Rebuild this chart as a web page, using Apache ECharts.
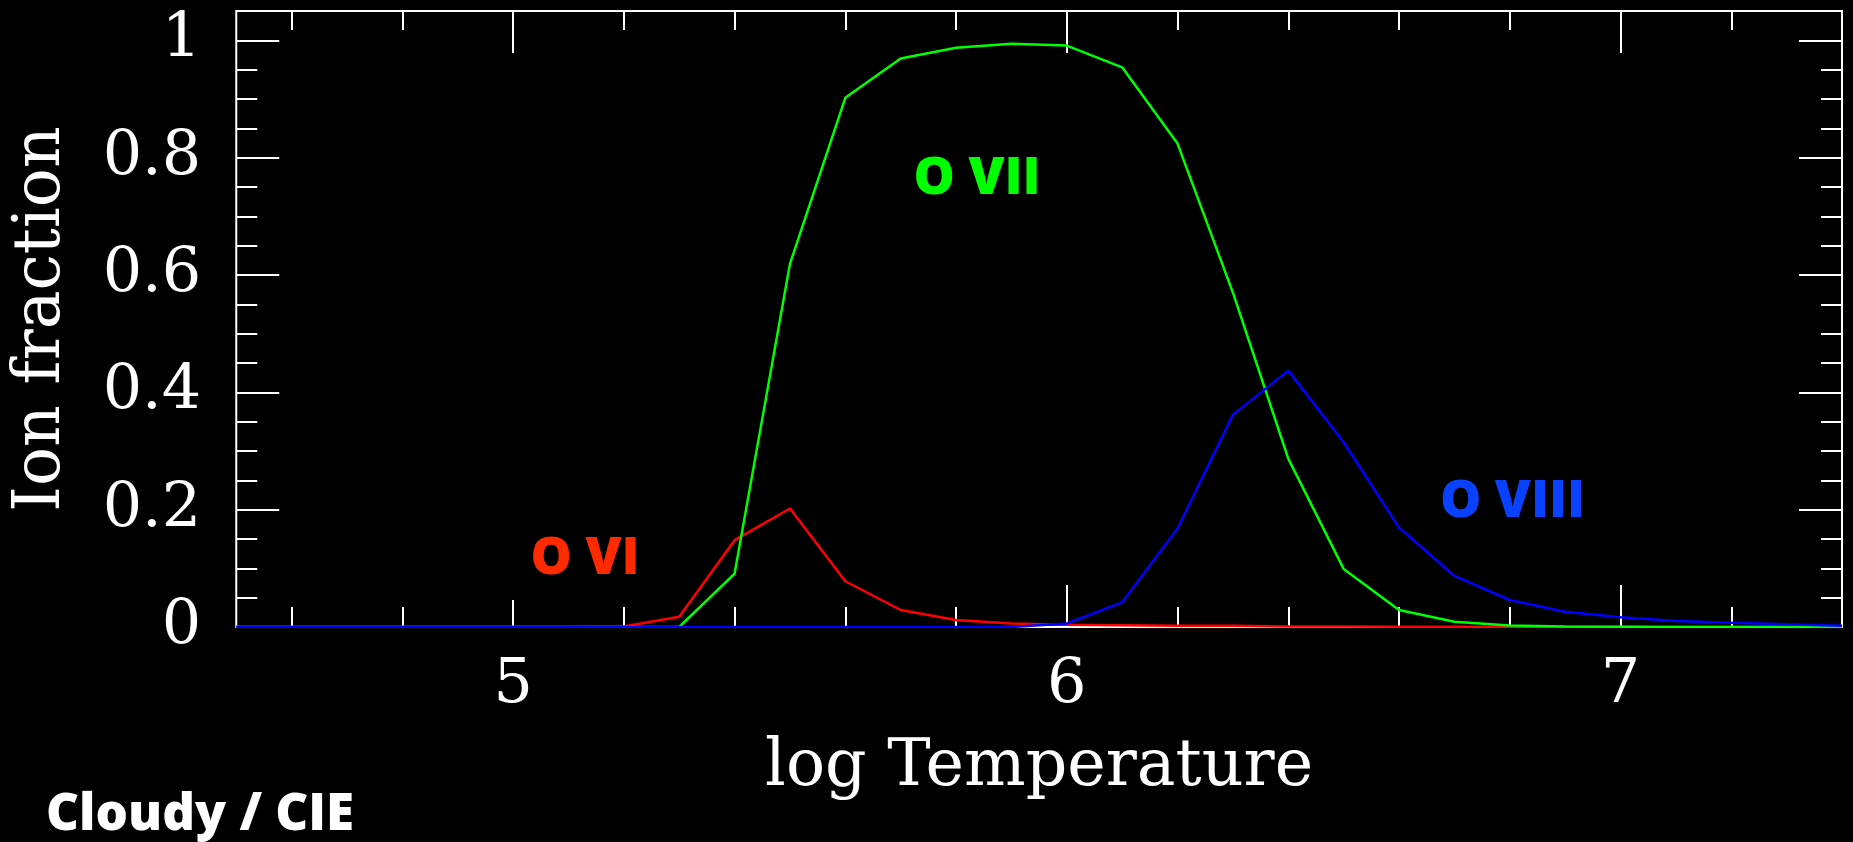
<!DOCTYPE html>
<html>
<head>
<meta charset="utf-8">
<title>Oxygen ion fractions — Cloudy / CIE</title>
<script src="https://cdn.jsdelivr.net/npm/echarts@6/dist/echarts.min.js"></script>
<style>
  html, body { margin: 0; padding: 0; background: #000; }
  #chart { width: 1853px; height: 842px; }
</style>
</head>
<body>
<div id="chart"></div>
<script>
// log T grid (0.1 dex steps)
const logT = [4.5, 4.6, 4.7, 4.8, 4.9, 5.0, 5.1, 5.2, 5.3, 5.4, 5.5, 5.6, 5.7, 5.8, 5.9,
              6.0, 6.1, 6.2, 6.3, 6.4, 6.5, 6.6, 6.7, 6.8, 6.9, 7.0, 7.1, 7.2, 7.3, 7.4];

// Ion fractions of oxygen in collisional ionisation equilibrium
const oVI   = [0, 0, 0, 0, 0, 0, 0, 0.001, 0.0175, 0.148, 0.202, 0.078, 0.029, 0.012, 0.006,
               0.004, 0.003, 0.002, 0.002, 0.001, 0.001, 0.0005, 0.0005, 0, 0, 0, 0, 0, 0, 0];
const oVII  = [0, 0, 0, 0, 0, 0, 0, 0, 0, 0.091, 0.619, 0.902, 0.969, 0.9875, 0.994,
               0.991, 0.954, 0.824, 0.570, 0.287, 0.099, 0.029, 0.009, 0.0025, 0.001,
               0.0005, 0, 0, 0, 0];
const oVIII = [0, 0, 0, 0, 0, 0, 0, 0, 0, 0, 0, 0, 0, 0, 0,
               0.006, 0.042, 0.168, 0.362, 0.437, 0.315, 0.1695, 0.087, 0.046, 0.026,
               0.0165, 0.0102, 0.0073, 0.0045, 0.002];

// Axis ranges and tick positions
const xRange = [4.5, 7.4];
const yRange = [0, 1.05];
const xLabels = [5, 6, 7];
const xMajorLong = [6, 7];
const xMajorShort = [5];
const xMinor = [4.6, 4.8, 5.2, 5.4, 5.6, 5.8, 6.2, 6.4, 6.6, 6.8, 7.2];
const yLabels = [0, 0.2, 0.4, 0.6, 0.8, 1];
const yMinor = [0.05, 0.1, 0.15, 0.25, 0.3, 0.35, 0.45, 0.5, 0.55, 0.65, 0.7, 0.75, 0.85, 0.9, 0.95];

// Ion names and where they sit (logT, fraction)
const ionNames = ['O VI', 'O VII', 'O VIII'];
const ionNameAt = [[5.13, 0.115], [5.838, 0.763], [6.805, 0.213]];

const serif = '"DejaVu Serif", "Liberation Serif", serif';
const sans = '"Open Sans", "DejaVu Sans", sans-serif';

// thin, plotter-like lettering for the axes
const axisText = { color: '#fff', fontFamily: serif, fontSize: 62,
                   textBorderColor: '#000', textBorderWidth: 2.5 };
const nameText = Object.assign({}, axisText, { fontSize: 65 });

function pairs(ys) { return logT.map((x, i) => [x, ys[i]]); }

function xTickAxis(position, values, len, withLabels) {
  return {
    type: 'value', position: position, min: xRange[0], max: xRange[1],
    axisLine: { show: false, onZero: false },
    splitLine: { show: false },
    axisTick: { show: true, inside: true, length: len, customValues: values,
                lineStyle: { color: '#fff', width: 2 } },
    axisLabel: withLabels
      ? Object.assign({ show: true, customValues: xLabels, margin: 28 }, axisText)
      : { show: false }
  };
}

function yTickAxis(position, values, len, withLabels) {
  return {
    type: 'value', position: position, min: yRange[0], max: yRange[1],
    axisLine: { show: false, onZero: false },
    splitLine: { show: false },
    axisTick: { show: true, inside: true, length: len, customValues: values,
                lineStyle: { color: '#fff', width: 2 } },
    axisLabel: withLabels
      ? Object.assign({ show: true, customValues: yLabels, margin: 35 }, axisText)
      : { show: false }
  };
}

const xAxes = [
  xTickAxis('bottom', xMajorLong, 42, true),
  xTickAxis('bottom', xMajorShort, 27, false),
  xTickAxis('bottom', xMinor, 20, false),
  xTickAxis('top', xLabels, 42, false),
  xTickAxis('top', xMinor, 19, false)
];
xAxes[0].name = 'log Temperature';
xAxes[0].nameLocation = 'middle';
xAxes[0].nameGap = 109;
xAxes[0].nameTextStyle = nameText;

const yAxes = [
  yTickAxis('left', yLabels, 43, true),
  yTickAxis('left', yMinor, 21, false),
  yTickAxis('right', yLabels, 43, false),
  yTickAxis('right', yMinor, 21, false)
];
yAxes[0].name = 'Ion fraction';
yAxes[0].nameLocation = 'middle';
yAxes[0].nameRotate = 90;
yAxes[0].nameGap = 162;
yAxes[0].nameTextStyle = nameText;

function ionSeries(name, ys, lineColor, labelColor, idx) {
  return {
    type: 'line', name: name, data: pairs(ys),
    xAxisIndex: 0, yAxisIndex: 0,
    showSymbol: false, symbol: 'none', animation: false,
    lineStyle: { color: lineColor, width: 2.5 },
    z: 3 + idx,
    markPoint: {
      symbol: 'circle', symbolSize: 1, itemStyle: { color: 'transparent' },
      silent: true, animation: false,
      label: { show: true, position: 'inside', formatter: name, color: labelColor,
               fontFamily: sans, fontWeight: 800, fontSize: 52 },
      data: [{ coord: ionNameAt[idx] }]
    }
  };
}

const chart = echarts.init(document.getElementById('chart'), null, { renderer: 'canvas' });
chart.setOption({
  backgroundColor: '#000',
  animation: false,
  grid: {
    show: true, left: 236, right: 11, top: 11, bottom: 215,
    borderColor: '#fff', borderWidth: 2, backgroundColor: 'transparent',
    containLabel: false
  },
  xAxis: xAxes,
  yAxis: yAxes,
  series: [
    ionSeries(ionNames[0], oVI, '#ff0000', '#ff2a00', 0),
    ionSeries(ionNames[1], oVII, '#00ff00', '#00ff00', 1),
    ionSeries(ionNames[2], oVIII, '#0000ff', '#0a40ff', 2)
  ],
  graphic: [{
    type: 'text', left: 46, top: 790,
    style: { text: 'Cloudy / CIE', fill: '#fff', font: '800 51px ' + sans }
  }]
});
</script>
</body>
</html>
